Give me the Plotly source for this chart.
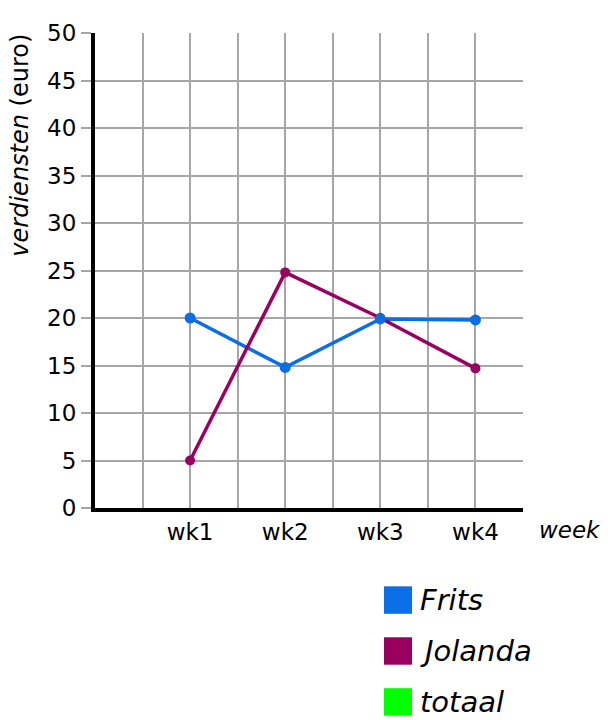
import plotly.graph_objects as go

weeks = ['wk1', 'wk2', 'wk3', 'wk4']
frits = [20, 14.8, 19.9, 19.8]
jolanda = [5, 24.8, 20, 14.7]
legend_labels = ['Frits', 'Jolanda', 'totaal']
legend_colors = ['#0a6fe6', '#99005f', '#00ff00']

# page has an 8px body margin, so the figure is a bit smaller than the window
OFF = 8
W, H = 600, 712
L, T = 95 - OFF, 23 - OFF
R, B = W - (523 - OFF), H - (508 - OFF)
PW, PH = W - L - R, H - T - B
FONT = 'DejaVu Sans'
GRID = '#a6a6a6'


def px_x(x):
    '''page pixel x -> paper x'''
    return (x - OFF - L) / PW


def px_y(y):
    '''page pixel y -> paper y'''
    return (H - B - (y - OFF)) / PH


xpos = [i + 1 for i in range(len(weeks))]
tickvals = [i / 2 for i in range(1, 2 * len(weeks) + 2)]
ticktext = [weeks[int(v) - 1] if v == int(v) and int(v) <= len(weeks) else '' for v in tickvals]

fig = go.Figure()
fig.add_trace(go.Scatter(x=xpos, y=frits, mode='lines', line=dict(color=legend_colors[0], width=3.5), showlegend=False))
fig.add_trace(go.Scatter(x=xpos, y=jolanda, mode='lines', line=dict(color=legend_colors[1], width=3.5), showlegend=False))
fig.add_trace(go.Scatter(x=xpos, y=jolanda, mode='markers', marker=dict(color=legend_colors[1], size=10), showlegend=False))
fig.add_trace(go.Scatter(x=xpos, y=frits, mode='markers', marker=dict(color=legend_colors[0], size=11), showlegend=False))

fig.update_xaxes(range=[0, 4.5], tickvals=tickvals, ticktext=ticktext, showgrid=True, gridcolor=GRID, gridwidth=2,
                 showline=True, linecolor='black', linewidth=4, zeroline=False, ticks='',
                 tickfont=dict(family=FONT, size=23, color='black'))
fig.update_yaxes(range=[0, 50], dtick=5, tick0=0, showgrid=True, gridcolor=GRID, gridwidth=2,
                 showline=True, linecolor='black', linewidth=4, zeroline=False,
                 ticks='outside', ticklen=10, tickwidth=2, tickcolor=GRID,
                 tickfont=dict(family=FONT, size=23, color='black'))

annotations = [
    dict(text='<i>verdiensten</i> (euro)', textangle=-90, xref='paper', yref='paper', x=px_x(20), y=px_y(138),
         xanchor='center', yanchor='middle', showarrow=False, font=dict(family=FONT, size=24, color='black')),
    dict(text='<i>week</i>', xref='paper', yref='paper', x=px_x(537), y=px_y(530),
         xanchor='left', yanchor='middle', showarrow=False, font=dict(family=FONT, size=23, color='black')),
]
shapes = []
for i, (lab, col) in enumerate(zip(legend_labels, legend_colors)):
    top = 588 + i * 52
    shapes.append(dict(type='rect', xref='paper', yref='paper', x0=px_x(384), x1=px_x(412),
                       y0=px_y(top), y1=px_y(top + 28), fillcolor=col, line=dict(width=0)))
    annotations.append(dict(text=f'<i>{lab}</i>', xref='paper', yref='paper', x=px_x(418), y=px_y(top + 14),
                            xanchor='left', yanchor='middle', showarrow=False,
                            font=dict(family=FONT, size=29, color='black')))

fig.update_layout(width=W, height=H, margin=dict(l=L, r=R, t=T, b=B), plot_bgcolor='white', paper_bgcolor='white',
                  annotations=annotations, shapes=shapes, showlegend=False)
fig.write_html('out.html')
